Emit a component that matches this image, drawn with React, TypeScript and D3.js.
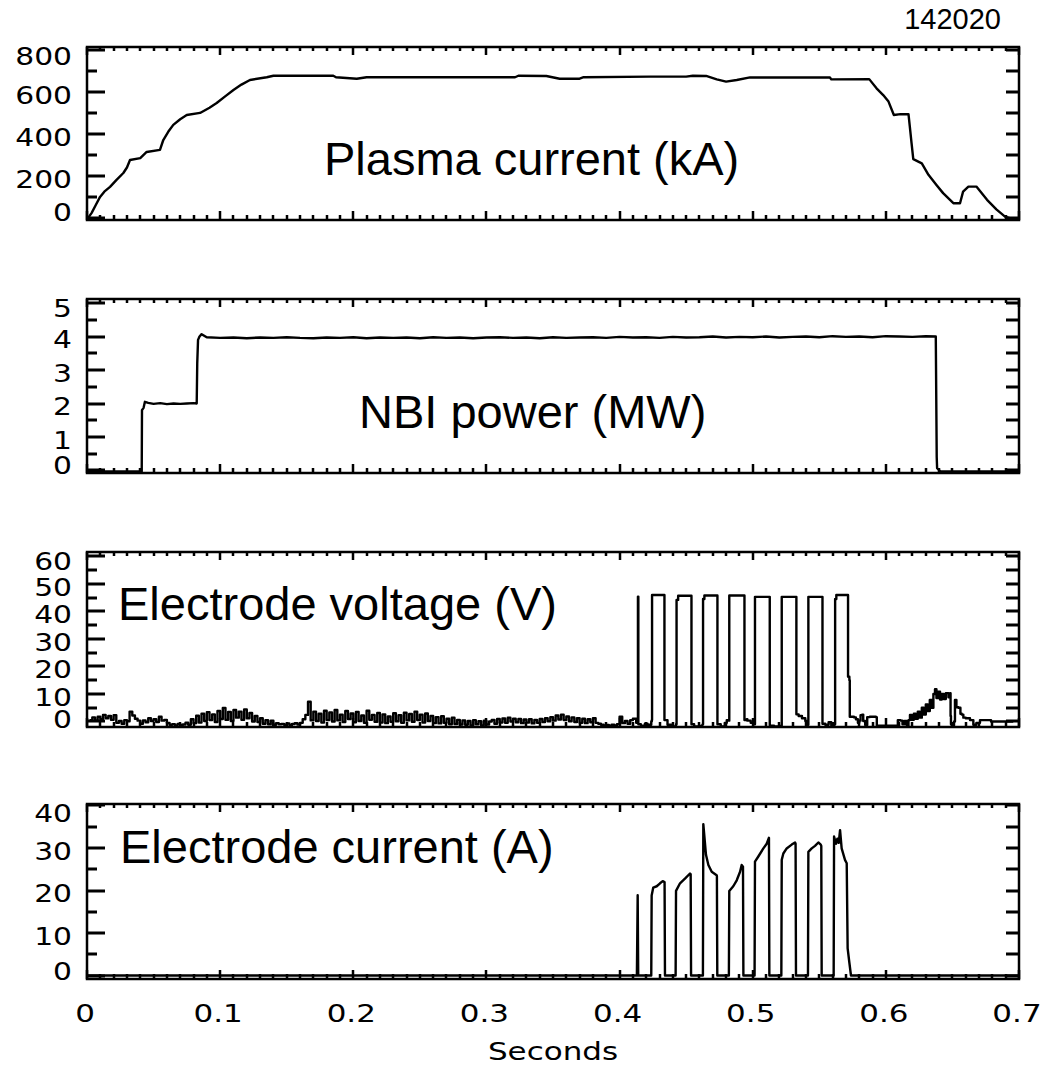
import React from "react";
import * as d3 from "d3";

// ---------- axis ticks ----------
const xMajorTicks = [0, 0.1, 0.2, 0.3, 0.4, 0.5, 0.6, 0.7];
const xTickLabels = ["0", "0.1", "0.2", "0.3", "0.4", "0.5", "0.6", "0.7"];
const xTitle = "Seconds";
const shotNumber = "142020";

const plasmaTicks = [0, 200, 400, 600, 800];
const plasmaMinor = [100, 300, 500, 700];
const nbiTicks = [0, 1, 2, 3, 4, 5];
const nbiMinor = [0.5, 1.5, 2.5, 3.5, 4.5];
const voltTicks = [0, 10, 20, 30, 40, 50, 60];
const voltMinor = [5, 15, 25, 35, 45, 55];
const currTicks = [0, 10, 20, 30, 40];
const currMinor = [5, 15, 25, 35];

const panelTitles = [
  "Plasma current (kA)",
  "NBI power (MW)",
  "Electrode voltage (V)",
  "Electrode current (A)",
];

// ---------- Plasma current (kA) ----------
const plasmaTime = [
  0.0, 0.0035, 0.0065, 0.0098, 0.013, 0.0173, 0.022, 0.0273, 0.03, 0.0323, 0.04, 0.0448,
  0.0548, 0.0573, 0.061, 0.0648, 0.07, 0.0749, 0.0849, 0.092, 0.0974, 0.104, 0.11, 0.116,
  0.1224, 0.135, 0.14, 0.185, 0.187, 0.2026, 0.21, 0.3215, 0.324, 0.345, 0.355, 0.37,
  0.373, 0.423, 0.45, 0.455, 0.465, 0.473, 0.48, 0.488, 0.498, 0.558, 0.559, 0.5875,
  0.593, 0.598, 0.602, 0.606, 0.611, 0.617, 0.618, 0.6193, 0.6206, 0.627, 0.632, 0.638,
  0.643, 0.6507, 0.6557, 0.658, 0.662, 0.668, 0.676, 0.683, 0.6895, 0.693, 0.7,
];
const plasmaCurrent = [
  -8, 24, 60, 100, 125, 148, 180, 214, 240, 276, 285, 314,
  324, 371, 410, 443, 470, 490, 500, 525, 547, 580, 609, 635,
  657, 670, 677, 677, 670, 663, 670, 670, 677, 676, 663, 663,
  670, 673, 673, 677, 676, 660, 649, 657, 669, 669, 660, 661,
  617, 585, 554, 490, 494, 494, 435, 356, 280, 260, 205, 157,
  118, 70, 70, 125, 149, 149, 86, 41, 6, -1, -1,
];

// ---------- NBI power (MW) ----------
const nbiTime = [
  0.0, 0.0411, 0.0413, 0.0425, 0.0435, 0.046, 0.05, 0.055, 0.06, 0.065, 0.07, 0.075,
  0.08, 0.0824, 0.0828, 0.0834, 0.0845, 0.0861, 0.0899,
  0.1, 0.11, 0.12, 0.13, 0.14, 0.15, 0.16, 0.17, 0.18, 0.19, 0.2, 0.21, 0.22, 0.23,
  0.24, 0.25, 0.26, 0.27, 0.28, 0.29, 0.3, 0.31, 0.32, 0.33, 0.34, 0.35, 0.36, 0.37,
  0.38, 0.39, 0.4, 0.41, 0.42, 0.43, 0.44, 0.45, 0.46, 0.47, 0.48, 0.49, 0.5, 0.51,
  0.52, 0.53, 0.54, 0.55, 0.56, 0.57, 0.58, 0.59, 0.6, 0.61, 0.62, 0.63, 0.6375,
  0.6382, 0.6385, 0.641, 0.7,
];
const nbiPower = [
  -0.03, -0.03, 1.8, 1.87, 2.05, 2.02, 1.99, 2.01, 1.98, 2.0, 1.99, 2.0,
  2.01, 2.0, 3.2, 3.9, 4.0, 4.07, 3.98,
  3.96, 3.97, 3.95, 3.97, 3.96, 3.98, 3.96, 3.95, 3.97, 3.96, 3.98, 3.95, 3.97, 3.96,
  3.97, 3.95, 3.98, 3.96, 3.97, 3.95, 3.97, 3.98, 3.96, 3.97, 3.95, 3.98, 3.96, 3.97,
  3.98, 3.96, 3.99, 3.97, 3.98, 3.96, 3.99, 3.97, 3.98, 4.0, 3.97, 3.99, 3.98, 4.0,
  3.97, 3.99, 4.0, 3.98, 4.01, 3.99, 4.0, 3.98, 4.01, 4.0, 3.99, 4.01, 4.0,
  0.4, 0.07, -0.03, -0.03,
];

// ---------- Electrode voltage (V) ----------
// noisy baseline before biasing, sampled every 2 ms starting at 2 ms
const voltNoiseStart = 0.002;
const voltNoiseStep = 0.002;
const voltNoise = [
  0.5, 1.5, 0.3, 1.7, 0.8, 2.4, 1.2, 2.0, 0.6, 2.3,
  -0.5, 0.2, -0.8, 0.5, 0.1, 3.6, 2.2, 1.0, 0.3, -0.8,
  0.4, -0.3, 1.2, 0.2, 0.8, -0.2, 1.7, 0.3, 0.6, -0.5,
  -1.2, -1.0, -1.4, -0.9, -1.3, -1.1, -0.4, -1.2, 0.8, -0.6,
  2.1, -0.4, 2.8, 0.2, 3.4, 0.5, 2.6, -0.2, 3.8, 0.9,
  4.9, 0.6, 3.5, 0.2, 4.2, 1.4, 3.6, 0.6, 4.4, 1.2,
  3.1, 0.0, 2.0, -0.2, 1.2, -0.8, 0.5, -1.0, 0.3, -1.2,
  -0.6, -1.0, -0.9, -1.2, -0.7, -1.3, -0.9, -0.6, -1.1, -0.5,
  0.8, 2.4, 7.2, 0.4, 3.6, 0.2, 2.8, -0.4, 3.9, 0.5,
  3.3, 0.0, 4.2, 0.4, 2.5, -0.2, 3.8, 0.9, 2.9, -0.3,
  3.5, 0.2, 2.2, -0.5, 3.9, 0.6, 2.4, -0.1, 3.1, -0.4,
  2.6, -0.6, 1.8, -0.1, 3.0, 0.1, 2.3, -0.5, 3.2, 0.4,
  2.7, -0.1, 3.6, 0.5, 2.5, -0.4, 2.9, 0.2, 2.0, -0.6,
  1.6, -0.7, 1.9, -0.5, 1.0, -1.0, 1.4, -0.9, 0.6, -1.1,
  0.4, -1.2, 0.2, -1.4, 0.5, -1.0, 0.1, -1.4, 0.3, -1.1,
  0.0, 0.6, -0.8, 0.9, -0.4, 1.1, -0.5, 1.4, 0.0, 1.0,
  -0.3, 0.9, -0.6, 0.7, -0.4, 0.8, -0.7, 0.6, -0.5, 0.9,
  -0.2, 1.2, 0.1, 1.6, 0.3, 2.2, 0.7, 2.5, 0.5, 1.8,
  0.1, 1.5, -0.2, 1.2, -0.5, 1.0, -0.6, 0.8, -0.3, 1.2,
  -0.5, -0.8, -1.2, -1.4, -1.3, -1.5, -1.2, -1.4, -1.0, 1.7,
  -0.6, 0.2, -0.8, 0.5, 1.0,
];
// biasing pulses and after
const voltPulseTime = [
  0.4125, 0.4136, 0.4138, 0.4141, 0.416, 0.419, 0.421, 0.4238,
  0.4242, 0.4244, 0.4334, 0.4337, 0.436, 0.44, 0.4424,
  0.4426, 0.4428, 0.444, 0.4537, 0.454, 0.456, 0.46, 0.4622,
  0.4625, 0.4627, 0.4637, 0.4732, 0.4735, 0.476, 0.479, 0.4805, 0.4818,
  0.4822, 0.4824, 0.4935, 0.4938, 0.4955, 0.496, 0.4985, 0.501,
  0.5015, 0.5017, 0.5125, 0.5128, 0.516, 0.521,
  0.5216, 0.5218, 0.5325, 0.5328, 0.5345, 0.537, 0.5395, 0.5412,
  0.5416, 0.5418, 0.5521, 0.5524, 0.5545, 0.557, 0.559, 0.5612,
  0.5616, 0.5619, 0.5628, 0.5713, 0.5716, 0.5726, 0.5729, 0.575,
  0.576, 0.5775, 0.579, 0.58, 0.581, 0.5822, 0.583, 0.5845, 0.586, 0.588,
  0.5925, 0.5932, 0.6025, 0.608, 0.609, 0.611, 0.6125, 0.614, 0.6157, 0.617,
  0.6181, 0.6195, 0.621, 0.6225, 0.624, 0.6255, 0.627, 0.6285, 0.63, 0.6315,
  0.633, 0.6345, 0.6357, 0.6369, 0.638, 0.6392, 0.6407, 0.642, 0.6435, 0.645,
  0.647, 0.6482, 0.6486, 0.6489, 0.65, 0.6512, 0.6519, 0.653, 0.6545, 0.656,
  0.657, 0.6582, 0.66, 0.6632, 0.6657, 0.668, 0.6707, 0.6782, 0.679, 0.6932, 0.6957,
];
const voltPulseValue = [
  -0.5, 0.0, 45.4, -1.0, -1.5, -0.8, -1.2, 0.0,
  0.5, 46.0, 46.0, 0.5, -1.2, -1.8, -1.0,
  -1.0, 44.2, 45.7, 45.7, -1.0, -1.8, -1.6, -1.2,
  -1.0, 44.5, 45.8, 45.8, -1.0, -1.8, -0.5, 0.5, 0.3,
  0.3, 45.8, 45.8, 0.5, 0.8, 0.3, -0.5, -1.0,
  -1.0, 45.3, 45.3, -1.5, -1.8, -1.5,
  -1.5, 45.3, 45.3, 2.6, 2.0, 1.2, 0.2, -1.2,
  -1.2, 45.3, 45.3, -0.8, -1.2, -0.3, -1.5, -1.2,
  -1.0, 44.5, 46.0, 46.0, 16.3, 15.0, 1.7, 1.7,
  1.5, 0.8, -0.5, 0.3, 2.3, 2.5, 0.2, -1.3, 1.6, 1.7,
  1.6, -1.5, -1.5, -1.5, 0.5, 0.3, -1.0, 0.2, -1.8, 0.5,
  2.4, 0.6, 2.8, 1.0, 3.6, 1.4, 5.0, 2.5, 6.2, 3.8,
  7.8, 5.0, 10.0, 11.7, 8.5, 10.8, 8.0, 10.0, 8.2, 10.3,
  8.8, 10.3, 2.0, -1.0, -1.5, 0.0, 7.8, 5.2, 5.0, 2.8,
  2.5, 1.4, 1.2, 0.5, -1.2, -0.5, 0.5, 0.5, 0.0, 0.0, 0.0,
];

// ---------- Electrode current (A) ----------
const currTime = [
  0.0, 0.413, 0.4136, 0.414, 0.4238,
  0.4241, 0.4253, 0.4279, 0.4304, 0.4324, 0.4338, 0.4341,
  0.4421, 0.4424, 0.4454, 0.4491, 0.4529, 0.4534, 0.4537,
  0.4626, 0.4629, 0.4649, 0.4667, 0.4692, 0.4729, 0.4731, 0.4734,
  0.4821, 0.4824, 0.4854, 0.488, 0.4905, 0.4917, 0.4927, 0.493,
  0.5014, 0.5017, 0.5042, 0.508, 0.5105, 0.5122, 0.5125,
  0.5215, 0.5218, 0.523, 0.5255, 0.5293, 0.5318, 0.5322, 0.5325,
  0.5415, 0.5418, 0.5443, 0.5468, 0.5493, 0.5511, 0.5515, 0.5518,
  0.5608, 0.5611, 0.5626, 0.5636, 0.5646, 0.5656, 0.5668, 0.5693, 0.5706,
  0.5713, 0.5726, 0.5738, 0.7,
];
const currValue = [
  0, 0, 18.9, 0, 0,
  18.8, 20.7, 21.0, 21.7, 22.2, 22.0, 0,
  0, 19.9, 21.7, 22.8, 24.0, 23.8, 0,
  0, 35.6, 28.4, 26.0, 24.4, 23.6, 23.4, 0,
  0, 19.9, 21.0, 22.4, 24.4, 26.0, 25.6, 0,
  0, 26.8, 28.0, 29.9, 31.0, 32.4, 0,
  0, 27.2, 28.7, 29.9, 30.8, 31.3, 31.0, 0,
  0, 29.1, 29.9, 30.5, 31.3, 30.8, 30.5, 0,
  0, 32.7, 31.0, 32.2, 31.2, 34.2, 29.9, 27.2, 26.4,
  6.4, 3.0, 0, 0,
];

// ---------- layout / style ----------
const FRAME_LEFT = 87;
const FRAME_RIGHT = 1019;
const LABEL_FONT = "'DejaVu Sans', sans-serif";
const LABEL_SIZE = 24;
const LABEL_STRETCH = 1.24;
const TITLE_FONT = "'Liberation Sans', Arial, sans-serif";

type Pt = [number, number];

function zipPts(t: number[], v: number[]): Pt[] {
  return t.map((tt, i) => [tt, v[i]] as Pt);
}

const voltNoisePts: Pt[] = voltNoise.map((v, i) => [voltNoiseStart + i * voltNoiseStep, v] as Pt);
const voltPts: Pt[] = [...voltNoisePts, ...zipPts(voltPulseTime, voltPulseValue)];

interface PanelSpec {
  top: number;
  bottom: number;
  domain: [number, number];
  major: number[];
  minor: number[];
  data: Pt[];
  step: boolean;
  title: string;
  titleX: number;
  titleY: number;
}

const panels: PanelSpec[] = [
  {
    top: 47, bottom: 220, domain: [-10, 814], major: plasmaTicks, minor: plasmaMinor,
    data: zipPts(plasmaTime, plasmaCurrent), step: false, title: panelTitles[0], titleX: 324, titleY: 175,
  },
  {
    top: 299, bottom: 473, domain: [-0.075, 5.12], major: nbiTicks, minor: nbiMinor,
    data: zipPts(nbiTime, nbiPower), step: false, title: panelTitles[1], titleX: 359, titleY: 428,
  },
  {
    top: 552, bottom: 727, domain: [-2, 61.6], major: voltTicks, minor: voltMinor,
    data: voltPts, step: true, title: panelTitles[2], titleX: 118, titleY: 620,
  },
  {
    top: 804, bottom: 979, domain: [-0.82, 40.35], major: currTicks, minor: currMinor,
    data: zipPts(currTime, currValue), step: false, title: panelTitles[3], titleX: 120, titleY: 863,
  },
];

const x = d3.scaleLinear().domain([0, 0.7]).range([FRAME_LEFT, FRAME_RIGHT]);
const xMinorTicks = d3.range(0, 0.7001, 0.01).filter(
  (v) => !xMajorTicks.some((m) => Math.abs(m - v) < 1e-6)
);

function Panel({ p, idx, last }: { p: PanelSpec; idx: number; last: boolean }) {
  const y = d3.scaleLinear().domain(p.domain).range([p.bottom, p.top]);
  const line = d3
    .line<Pt>()
    .x((d) => x(d[0]))
    .y((d) => y(d[1]))
    .curve(p.step ? d3.curveStepAfter : d3.curveLinear);
  const clipId = `clip-${idx}`;

  const xTickPath: string[] = [];
  xMajorTicks.forEach((t) => {
    const px = Math.round(x(t));
    xTickPath.push(`M${px},${p.bottom}V${p.bottom - 9}`);
    xTickPath.push(`M${px},${p.top}V${p.top + 8}`);
  });
  xMinorTicks.forEach((t) => {
    const px = Math.round(x(t));
    xTickPath.push(`M${px},${p.bottom}V${p.bottom - 5}`);
    xTickPath.push(`M${px},${p.top}V${p.top + 4}`);
  });
  const yTickPath: string[] = [];
  p.major.forEach((v) => {
    const py = Math.round(y(v));
    yTickPath.push(`M${FRAME_LEFT},${py}H${FRAME_LEFT + 18}`);
    yTickPath.push(`M${FRAME_RIGHT},${py}H${FRAME_RIGHT - 13}`);
  });
  p.minor.forEach((v) => {
    const py = Math.round(y(v));
    yTickPath.push(`M${FRAME_LEFT},${py}H${FRAME_LEFT + 10}`);
    yTickPath.push(`M${FRAME_RIGHT},${py}H${FRAME_RIGHT - 13}`);
  });

  return (
    <g>
      <defs>
        <clipPath id={clipId}>
          <rect x={FRAME_LEFT} y={p.top - 1} width={FRAME_RIGHT - FRAME_LEFT} height={p.bottom - p.top + 2} />
        </clipPath>
      </defs>
      {/* data */}
      <path
        d={line(p.data) || ""}
        fill="none"
        stroke="#000"
        strokeWidth={2.4}
        strokeLinejoin="round"
        clipPath={`url(#${clipId})`}
      />
      {/* frame */}
      <rect
        x={FRAME_LEFT}
        y={p.top}
        width={FRAME_RIGHT - FRAME_LEFT}
        height={p.bottom - p.top}
        fill="none"
        stroke="#000"
        strokeWidth={2.5}
      />
      {/* ticks */}
      <path d={xTickPath.join("")} fill="none" stroke="#000" strokeWidth={2.5} />
      <path d={yTickPath.join("")} fill="none" stroke="#000" strokeWidth={3} />
      {/* y tick labels */}
      {p.major.map((v) => {
        const c = Math.max(p.top + 9, Math.min(p.bottom - 8, y(v) + 3));
        return (
          <text
            key={"yl" + v}
            transform={`translate(72,${c + 8.7}) scale(${LABEL_STRETCH},1)`}
            textAnchor="end"
            fontFamily={LABEL_FONT}
            fontSize={LABEL_SIZE}
            fill="#000"
          >
            {String(v)}
          </text>
        );
      })}
      {/* title */}
      <text x={p.titleX} y={p.titleY} fontFamily={TITLE_FONT} fontSize={47} fill="#000">
        {p.title}
      </text>
      {last &&
        xMajorTicks.map((t, i) => (
          <text
            key={"xl" + t}
            transform={`translate(${x(t) - 2},1022) scale(${LABEL_STRETCH},1)`}
            textAnchor="middle"
            fontFamily={LABEL_FONT}
            fontSize={LABEL_SIZE + 1}
            fill="#000"
          >
            {xTickLabels[i]}
          </text>
        ))}
    </g>
  );
}

export default function App() {
  return (
    <svg
      width={1048}
      height={1065}
      viewBox="0 0 1048 1065"
      style={{ position: "absolute", left: 0, top: 0, display: "block", background: "#fff" }}
    >
      <rect x={0} y={0} width={1048} height={1065} fill="#fff" />
      <text x={1001} y={29} textAnchor="end" fontFamily={TITLE_FONT} fontSize={29} fill="#000">
        {shotNumber}
      </text>
      {panels.map((p, i) => (
        <Panel key={i} p={p} idx={i} last={i === panels.length - 1} />
      ))}
      <text
        transform={`translate(${(FRAME_LEFT + FRAME_RIGHT) / 2},1060) scale(${LABEL_STRETCH},1)`}
        textAnchor="middle"
        fontFamily={LABEL_FONT}
        fontSize={LABEL_SIZE + 1}
        fill="#000"
      >
        {xTitle}
      </text>
    </svg>
  );
}
